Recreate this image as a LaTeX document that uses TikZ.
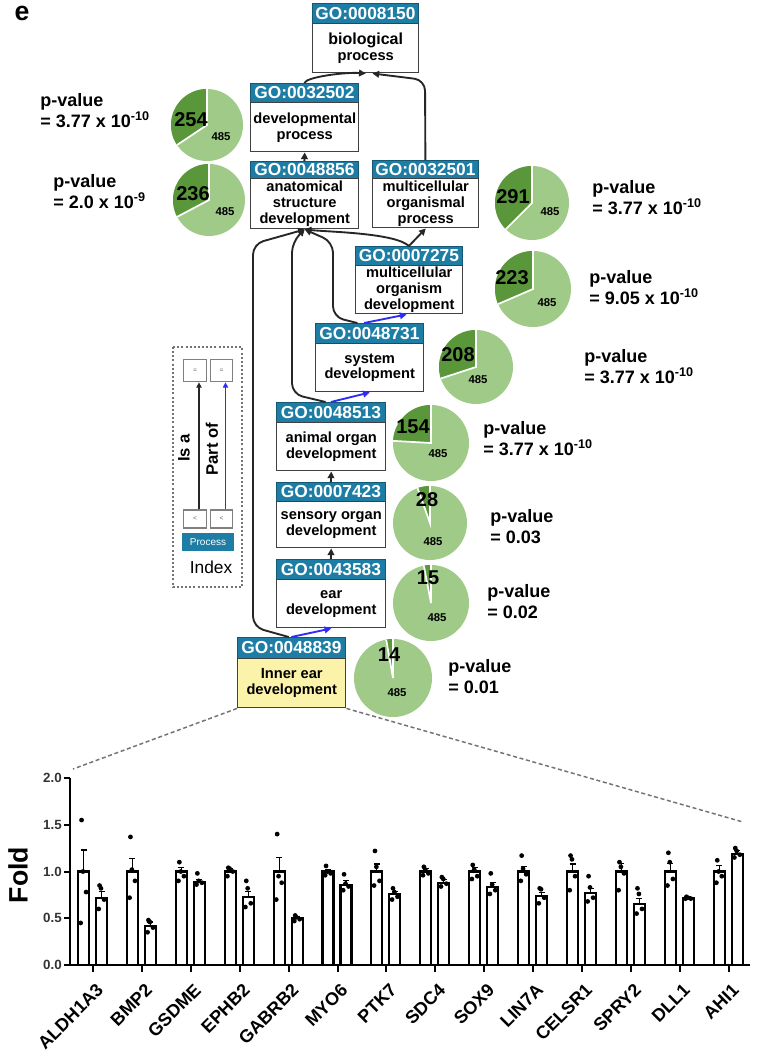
\documentclass[tikz,border=0pt]{standalone}
\usepackage{fontspec}
\setmainfont{Liberation Sans}
\usetikzlibrary{arrows.meta,calc}
\definecolor{goteal}{RGB}{30,125,165}
\definecolor{goyellow}{RGB}{252,243,170}
\definecolor{pielight}{RGB}{160,202,135}
\definecolor{piedark}{RGB}{90,150,58}
\definecolor{partblue}{RGB}{45,45,250}
\tikzset{
  hdr/.style={fill=goteal, draw=goteal!70!black, line width=0.6pt, text=white,
    font=\fontsize{13}{14}\selectfont\bfseries, inner sep=0pt},
  gobody/.style={fill=white, draw=black!75, line width=1.1pt, align=center,
    font=\fontsize{11}{12}\selectfont\bfseries, inner sep=0pt},
  gobodyy/.style={gobody, fill=goyellow},
  isa/.style={draw=black!85, line width=1.4pt, -{Triangle[length=5pt,width=5pt]}},
  partof/.style={draw=partblue, line width=1.4pt, -{Triangle[length=5pt,width=5pt]}},
  pcount/.style={font=\fontsize{15}{16}\selectfont\bfseries, inner sep=0pt},
  ptotal/.style={font=\fontsize{8.5}{9}\selectfont\bfseries, inner sep=0pt},
  pval/.style={font=\fontsize{13.5}{16}\selectfont\bfseries, align=left, inner sep=0pt, anchor=north west},
  ibox/.style={draw=black!50, line width=0.8pt, fill=white, minimum width=17pt, inner sep=0pt,
    font=\fontsize{5}{5}\selectfont, text=black!60},
  zoomdash/.style={draw=black!55, line width=1.1pt, dash pattern=on 3pt off 2pt},
  axisline/.style={draw=black, line width=1.5pt},
  barbox/.style={draw=black, line width=1.6pt, fill=white},
  errbar/.style={draw=black, line width=0.8pt},
  ytick/.style={font=\fontsize{10}{11}\selectfont\bfseries, text=black!80, inner sep=0pt, anchor=east},
  gene/.style={font=\fontsize{13.5}{14}\selectfont\bfseries, inner sep=0pt, rotate=45, anchor=east}
}
\newcommand\GOnode[9]{%
  \node[hdr, anchor=north west, minimum width={(#3-#2)*0.75pt}, minimum height={(#5-#4)*0.75pt}] (#1h) at (#2,#4) {GO:#7};
  \node[#9, anchor=north west, minimum width={(#3-#2)*0.75pt}, minimum height={(#6-#5)*0.75pt}] (#1) at (#2,#5) {#8};
}
\newcommand\piechart[9]{%
  \pgfmathsetmacro\pieang{360/(#5+485)*#5}%
  \pgfmathsetmacro\piestart{270-\pieang}%
  \fill[pielight] (#2,#3) circle[radius={#4*0.75pt}];
  \fill[piedark] (#2,#3) -- plot[domain=\piestart:270, samples=40, variable=\pa] ({#2+#4*cos(\pa)},{#3+#4*sin(\pa)}) -- cycle;
  \draw[white, line width=1.3pt] ({#2+#4*cos(\piestart)},{#3+#4*sin(\piestart)}) -- (#2,#3) -- (#2,#3-#4);
  \node[pcount] (#1a) at ({#2+#6},{#3+#7}) {#5};
  \node[ptotal] (#1b) at ({#2+#8},{#3+#9}) {485};
}
\begin{document}
\begin{tikzpicture}[x=0.75pt, y=-0.75pt]
\useasboundingbox (0,0) rectangle (767,1060);
\fill[white] (0,0) rectangle (767,1060);

\node[font=\fontsize{20}{22}\selectfont\bfseries, inner sep=0pt] (lbl) at (22,13) {e};

% GO nodes
\GOnode{n8150}{312}{418}{3}{23}{72}{0008150}{\fontsize{12}{14}\selectfont biological\\process}{gobody}
\GOnode{n32502}{250}{358}{83}{102}{151}{0032502}{developmental\\process}{gobody}
\GOnode{n48856}{250}{358}{161}{178}{228}{0048856}{anatomical\\structure\\development}{gobody}
\GOnode{n32501}{372}{478}{160}{178}{227}{0032501}{multicellular\\organismal\\process}{gobody}
\GOnode{n7275}{355}{462}{246}{265}{313}{0007275}{multicellular\\organism\\development}{gobody}
\GOnode{n48731}{315}{423}{323}{343}{391}{0048731}{system\\development}{gobody}
\GOnode{n48513}{276}{385}{402}{422}{470}{0048513}{animal organ\\development}{gobody}
\GOnode{n7423}{276}{385}{482}{501}{547}{0007423}{sensory organ\\development}{gobody}
\GOnode{n43583}{276}{385}{559}{579}{627}{0043583}{ear\\development}{gobody}
\GOnode{n48839}{237}{345}{637}{658}{707}{0048839}{Inner ear\\development}{gobodyy}

% edges
\draw[isa] (n32502h.north) .. controls (306,77) and (345,72) .. (n8150.south);
\draw[isa, rounded corners=8pt] (n32501h.north) -- (425,80) -- ([xshift=5pt]n8150.south);
\draw[isa] (n48856h.north) -- (n32502.south);
\draw[isa] (n7275h.north) .. controls (395,233) and (330,232) .. (n48856.south);
\draw[isa] (n7275h.north) -- (n32501.south);
\draw[partof] ([xshift=-4pt]n48731h.north) -- ([xshift=-2pt]n7275.south);
\draw[isa, rounded corners=8pt] ([xshift=-9pt]n48731h.north) -- (333,317) -- (333,242) -- (n48856.south);
\draw[partof] (n48513h.north) -- (n48731.south);
\draw[isa, rounded corners=8pt] ([xshift=-4pt]n48513h.north) -- (292,394) -- (292,242) -- (n48856.south);
\draw[partof] (n48839h.north) -- (n43583.south);
\draw[isa, rounded corners=8pt] ([xshift=-2pt]n48839h.north) -- (253,627) -- (253,244) -- (n48856.south);
\draw[isa] (n43583h.north) -- (n7423.south);
\draw[isa] (n7423h.north) -- (n48513.south);

% pies
\piechart{p1}{207}{125}{36}{254}{-16}{-5}{14}{12}
\piechart{p2}{209}{200}{36}{236}{-16}{-6}{16}{12}
\piechart{p3}{532}{203}{37}{291}{-19}{-6}{18}{9}
\piechart{p4}{533}{289}{38}{223}{-21}{-11}{14}{14}
\piechart{p5}{476}{367}{37}{208}{-18}{-12}{2}{13}
\piechart{p6}{431}{443}{38}{154}{-18}{-16}{7}{11}
\piechart{p7}{430}{523}{37}{28}{-3}{-23}{3}{19}
\piechart{p8}{431}{603}{38}{15}{-3}{-25}{6}{15}
\piechart{p9}{393}{678}{39}{14}{-4}{-23}{4}{15}

% p-values
\node[pval] (pv1) at (40,93) {p-value\\= 3.77 x 10\textsuperscript{-10}};
\node[pval] (pv2) at (53,174) {p-value\\= 2.0 x 10\textsuperscript{-9}};
\node[pval] (pv3) at (592,180) {p-value\\= 3.77 x 10\textsuperscript{-10}};
\node[pval] (pv4) at (589,270) {p-value\\= 9.05 x 10\textsuperscript{-10}};
\node[pval] (pv5) at (584,349) {p-value\\= 3.77 x 10\textsuperscript{-10}};
\node[pval] (pv6) at (483,421) {p-value\\= 3.77 x 10\textsuperscript{-10}};
\node[pval] (pv7) at (490,509) {p-value\\= 0.03};
\node[pval] (pv8) at (487,584) {p-value\\= 0.02};
\node[pval] (pv9) at (448,659) {p-value\\= 0.01};

% index legend
\draw[black!55, line width=1.4pt, dash pattern=on 1.5pt off 1.6pt] (173,347) rectangle (242,587);
\node[ibox, minimum height=17pt] (it1) at (195,370.5) {=};
\node[ibox, minimum height=17pt] (it2) at (221.5,370.5) {=};
\node[ibox, minimum height=13.5pt] (ib1) at (195,519) {<};
\node[ibox, minimum height=13.5pt] (ib2) at (221.5,519) {<};
\node[fill=goteal, text=white, font=\fontsize{7.5}{8}\selectfont, minimum width=39pt, minimum height=13.5pt, inner sep=0pt] (iproc) at (208,542) {Process};
\node[font=\fontsize{13}{14}\selectfont, inner sep=0pt] (iindex) at (211,567) {Index};
\draw[draw=black!85, line width=0.8pt, -{Triangle[length=4pt,width=4pt]}] ([xshift=3pt]ib1.north) -- ([xshift=3pt]it1.south);
\draw[draw=partblue, line width=0.8pt, -{Triangle[length=4pt,width=4pt]}] ([xshift=3pt]ib2.north) -- ([xshift=3pt]it2.south);
\node[rotate=90, font=\fontsize{12.5}{13}\selectfont\bfseries, inner sep=0pt] (ilab1) at (184,448) {Is a};
\node[rotate=90, font=\fontsize{12.5}{13}\selectfont\bfseries, inner sep=0pt] (ilab2) at (212,449) {Part of};

% zoom lines
\coordinate (zl) at (73,769);
\coordinate (zr) at (743,822);
\draw[zoomdash] (n48839.south west) -- (zl);
\draw[zoomdash] (n48839.south east) -- (zr);

% bar chart
\foreach \v/\t [count=\j] in {0/0.0, 0.5/0.5, 1/1.0, 1.5/1.5, 2/2.0} {
  \draw[axisline] (64,{965-93.5*\v}) -- (70,{965-93.5*\v});
  \node[ytick] (ytk\j) at (62,{965-93.5*\v}) {\t};
}
\node[rotate=90, font=\fontsize{20}{22}\selectfont\bfseries, inner sep=0pt] (fold) at (18,875) {Fold};

\foreach \g/\mb/\ea/\eb/\da/\db [count=\gi from 0] in {
 ALDH1A3/0.72/0.23/0.07/{1.55,1.0,0.78,0.45}/{0.85,0.82,0.70,0.60},
 BMP2/0.42/0.14/0.04/{1.37,1.02,0.90,0.72}/{0.48,0.46,0.40,0.35},
 GSDME/0.89/0.04/0.02/{1.10,1.0,0.95,0.90}/{0.98,0.90,0.88,0.86},
 EPHB2/0.73/0.03/0.06/{1.04,1.03,1.0,0.95}/{0.90,0.82,0.66,0.62},
 GABRB2/0.50/0.15/0.02/{1.40,0.95,0.88,0.70}/{0.53,0.51,0.49,0.47},
 MYO6/0.86/0.02/0.04/{1.06,1.0,0.98,0.96}/{0.97,0.87,0.84,0.80},
 PTK7/0.76/0.08/0.03/{1.22,1.05,0.90,0.85}/{0.82,0.78,0.73,0.70},
 SDC4/0.88/0.03/0.03/{1.05,1.02,0.98,0.96}/{0.94,0.92,0.87,0.84},
 SOX9/0.83/0.04/0.05/{1.07,1.02,0.95,0.92}/{0.98,0.86,0.80,0.76},
 LIN7A/0.74/0.05/0.04/{1.17,1.03,0.97,0.90}/{0.82,0.81,0.72,0.66},
 CELSR1/0.77/0.08/0.05/{1.17,1.13,0.95,0.80}/{0.95,0.83,0.72,0.68},
 SPRY2/0.65/0.09/0.06/{1.10,1.05,0.98,0.80}/{0.82,0.76,0.60,0.55},
 DLL1/0.72/0.09/0.01/{1.20,1.10,0.92,0.85}/{0.73,0.72,0.71,0.71},
 AHI1/1.19/0.06/0.03/{1.12,1.0,0.95,0.88}/{1.25,1.22,1.18,1.15}} {
  \pgfmathsetmacro\gc{93+48.9*\gi}
  \draw[barbox] ({\gc-15},965) rectangle ({\gc-4},{965-93.5});
  \draw[barbox] ({\gc+3},965) rectangle ({\gc+14},{965-93.5*\mb});
  \draw[errbar] ({\gc-9.5},{965-93.5}) -- ({\gc-9.5},{965-93.5*(1+\ea)}) ++(-3,0) -- ++(6,0);
  \draw[errbar] ({\gc+8.5},{965-93.5*\mb}) -- ({\gc+8.5},{965-93.5*(\mb+\eb)}) ++(-3,0) -- ++(6,0);
  \foreach \v [count=\k] in \da {
    \fill ({\gc-9.5+3*cos(\k*130)},{965-93.5*\v}) circle[radius=1.8pt];
  }
  \foreach \v [count=\k] in \db {
    \fill ({\gc+8.5+3*cos(\k*130)},{965-93.5*\v}) circle[radius=1.8pt];
  }
  \draw[axisline] (\gc,965) -- (\gc,972);
  \node[gene] (gene\gi) at ({\gc+7},987) {\g};
}
\draw[axisline] (70,778) -- (70,965) -- (750,965);
\end{tikzpicture}
\end{document}
